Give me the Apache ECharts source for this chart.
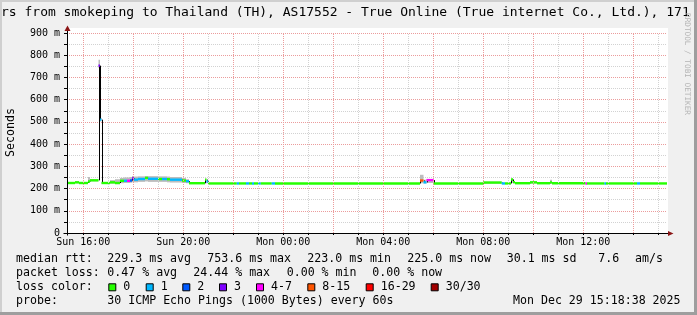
<!DOCTYPE html>
<html><head><meta charset="utf-8">
<script src="https://cdn.jsdelivr.net/npm/echarts@6/dist/echarts.min.js"></script>
<style>html,body{margin:0;padding:0;background:#f0f0f0}#c{width:697px;height:315px}</style>
</head><body><div id="c"></div>
<script>
// ---- axis extents / ticks (hours since Sun 00:00, values in ms) ----
const xMin = 15.35, xMax = 39.35;
const xTickHours = [16, 20, 24, 28, 32, 36];
const xTickLabels = ['Sun 16:00', 'Sun 20:00', 'Mon 00:00', 'Mon 04:00', 'Mon 08:00', 'Mon 12:00'];
const yMax = 900, yStep = 100;

// ---- median rtt segments (start hour, median ms, loss class, smoke range) ----
const segStart = [15.35,15.67,15.83,16.19,16.27,16.61,16.67,16.73,17.07,17.27,
  17.47,17.63,17.75,17.87,17.95,18.03,18.19,18.47,18.59,18.99,
  19.15,19.35,19.47,19.95,20.11,20.23,20.87,20.93,20.99,22.14,
  22.23,22.51,22.63,22.75,22.83,22.99,23.10,23.54,23.67,29.47,
  29.61,29.73,30.01,31.99,32.74,32.87,33.11,33.19,33.27,33.87,
  34.15,34.67,34.75,36.09,36.15,36.85,36.91,38.15,38.27];
const medianMs = [225,228,225,232,237,753,510,225,228,225,
  235,235,235,236,246,240,243,248,244,243,
  243,242,240,236,233,224,240,232,223,223,
  223,223,223,223,223,223,223,223,223,236,
  228,238,223,227,223,223,241,229,224,228,
  224,228,224,223,223,223,223,223,223];
const lossIdx = [0,0,0,0,0,3,1,0,0,0,
  0,1,4,2,3,1,1,0,1,0,
  1,0,1,0,1,0,0,1,0,1,
  0,1,0,1,0,1,0,1,0,5,
  1,4,0,0,1,0,0,0,0,0,
  0,0,0,4,0,1,0,1,0];
const smokeLow = [222,224,222,226,233,742,502,222,222,220,
  224,225,225,226,228,228,230,232,230,230,
  230,228,227,225,224,221,224,224,221,221,
  221,221,221,221,221,221,221,221,221,224,
  223,225,221,222,221,221,225,223,221,223,
  221,222,221,221,221,221,221,221,221];
const smokeHigh = [228,232,228,252,242,780,518,228,238,242,
  248,250,250,252,256,254,255,256,256,255,
  255,254,252,248,242,226,244,240,225,225,
  225,225,225,225,225,225,225,225,225,262,
  240,242,225,231,225,225,244,232,226,231,
  226,240,226,225,225,225,225,225,225];

// ---- loss colour legend ----
const lossLabels = ['0', '1', '2', '3', '4-7', '8-15', '16-29', '30/30'];
const lossColors = ['#26ff00', '#00b8ff', '#0059ff', '#7e00ff', '#ff00ff', '#ff5500', '#ff0000', '#a10000'];

// ---- texts ----
const titleText = 'rs from smokeping to Thailand (TH), AS17552 - True Online (True internet Co., Ltd.), 171';
const yTitle = 'Seconds';
const watermark = 'RRDTOOL / TOBI OETIKER';
const rttHead = 'median rtt:';
const rttStats = ['229.3 ms avg', '753.6 ms max', '223.0 ms min', '225.0 ms now', '30.1 ms sd', '7.6', 'am/s'];
const lossHead = 'packet loss:';
const lossStats = ['0.47 % avg', '24.44 % max', '0.00 % min', '0.00 % now'];
const colorHead = 'loss color:';
const probeHead = 'probe:';
const probeText = '30 ICMP Echo Pings (1000 Bytes) every 60s';
const stampText = 'Mon Dec 29 15:18:38 2025';

// ---- layout (positions only) ----
const MONO = '"DejaVu Sans Mono", monospace';
const LEG_FONT = '11.6px ' + MONO;
const lineY = [259.3, 273.3, 287.3, 301];
const rttX = [107.3, 207.3, 307.3, 407.3, 506.7, 598.3, 635];
const lossX = [107.3, 193.3, 286.7, 372.3];
const boxX = [108.3, 145.7, 182.3, 219, 256, 307.3, 365.7, 430.7];

const last = segStart.length - 1;
const segEnd = segStart.map((s, i) => i < last ? segStart[i + 1] : xMax);
const medianRows = segStart.map((s, i) => [s, segEnd[i], medianMs[i], lossIdx[i], i > 0 ? medianMs[i - 1] : medianMs[i]]);
const smokeRows = segStart.map((s, i) => [s, segEnd[i], smokeLow[i], smokeHigh[i]]);

const hourLines = [];
for (let h = Math.ceil(xMin); h <= xMax; h++) hourLines.push(h);
const MAJOR = '#eb9c9c', MINOR = '#d2d2d2';

const chart = echarts.init(document.getElementById('c'), null, { renderer: 'canvas' });
chart.setOption({
  animation: false,
  backgroundColor: '#f0f0f0',
  textStyle: { fontFamily: MONO },
  grid: { left: 67, top: 33, width: 600, height: 200, containLabel: false },
  xAxis: {
    type: 'value', min: xMin, max: xMax,
    axisLine: { show: false },
    splitLine: { show: false },
    axisTick: { show: true, customValues: hourLines, length: 2, lineStyle: { color: '#000' } },
    axisLabel: {
      customValues: xTickHours, margin: 4, color: '#000',
      fontFamily: MONO, fontSize: 10,
      formatter: v => xTickLabels[xTickHours.indexOf(Math.round(v))] || ''
    }
  },
  yAxis: {
    type: 'value', min: 0, max: yMax, interval: yStep,
    axisLine: { show: false },
    axisTick: { show: true, length: 3, lineStyle: { color: '#000' } },
    minorTick: { show: true, splitNumber: 2, length: 3, lineStyle: { color: '#000' } },
    splitLine: { show: true, lineStyle: { color: MAJOR, type: [1, 1], width: 1 } },
    minorSplitLine: { show: true, lineStyle: { color: MINOR, type: [1, 1], width: 1 } },
    axisLabel: {
      margin: 7, color: '#000', fontFamily: MONO, fontSize: 10,
      formatter: v => v === 0 ? '0' : v + ' m'
    }
  },
  series: [
    {
      type: 'line', data: [], z: 1, silent: true,
      markLine: {
        silent: true, symbol: ['none', 'none'], label: { show: false }, animation: false,
        lineStyle: { type: [1, 1], width: 1 },
        data: hourLines.map(h => ({ xAxis: h, lineStyle: { color: h % 2 === 0 ? MAJOR : MINOR, type: [1, 1], width: 1 } }))
      }
    },
    {
      type: 'custom', name: 'smoke', z: 2, clip: true, silent: true,
      data: smokeRows,
      renderItem: (params, api) => {
        const a = api.coord([api.value(0), api.value(3)]);
        const b = api.coord([api.value(1), api.value(2)]);
        return { type: 'rect', shape: { x: a[0], y: a[1], width: b[0] - a[0], height: b[1] - a[1] }, style: { fill: '#bdbdbd' } };
      }
    },
    {
      type: 'custom', name: 'median', z: 4, clip: true, silent: true,
      data: medianRows,
      renderItem: (params, api) => {
        const a = api.coord([api.value(0), api.value(2)]);
        const b = api.coord([api.value(1), api.value(2)]);
        const prev = api.coord([api.value(0), api.value(4)]);
        const vx = Math.round(a[0]) + 0.5;
        return {
          type: 'group',
          children: [
            { type: 'line', shape: { x1: vx, y1: prev[1], x2: vx, y2: a[1] }, style: { stroke: '#000', lineWidth: 1 } },
            { type: 'rect', shape: { x: a[0], y: a[1] - 1.2, width: b[0] - a[0], height: 2.4 }, style: { fill: lossColors[api.value(3)] } }
          ]
        };
      }
    }
  ]
});

const p0 = chart.convertToPixel({ gridIndex: 0 }, [xMin, 0]);
const p1 = chart.convertToPixel({ gridIndex: 0 }, [xMax, yMax]);
const AX = Math.round(p0[0]) + 0.5, AY = Math.round(p0[1]) + 0.5;
const RIGHT = p1[0], TOP = p1[1];
const W = 697, H = 315;
const ARROW = '#8a1414';

const txt = (text, x, y, font) => ({
  type: 'text', z: 60,
  style: { text, x, y, font: font || LEG_FONT, fill: '#000', textAlign: 'left', textVerticalAlign: 'middle' }
});

const els = [
  { type: 'rect', z: -10, shape: { x: p0[0], y: TOP - 5, width: RIGHT - p0[0] + 1, height: p0[1] - TOP + 5 }, style: { fill: '#ffffff' } },
  // frame
  { type: 'rect', z: 90, shape: { x: 0, y: 0, width: W, height: 2 }, style: { fill: '#cfcfcf' } },
  { type: 'rect', z: 90, shape: { x: 0, y: 0, width: 2, height: H }, style: { fill: '#cfcfcf' } },
  { type: 'rect', z: 91, shape: { x: W - 3, y: 0, width: 3, height: H }, style: { fill: '#9e9e9e' } },
  { type: 'rect', z: 91, shape: { x: 0, y: H - 3, width: W, height: 3 }, style: { fill: '#9e9e9e' } },
  // axes
  { type: 'line', z: 50, shape: { x1: AX, y1: AY + 2, x2: AX, y2: TOP - 2 }, style: { stroke: '#000', lineWidth: 1 } },
  { type: 'line', z: 50, shape: { x1: AX - 4, y1: AY, x2: RIGHT + 1, y2: AY }, style: { stroke: '#000', lineWidth: 1 } },
  { type: 'polygon', z: 51, shape: { points: [[AX - 3, TOP - 2], [AX, TOP - 7.5], [AX + 3, TOP - 2]] }, style: { fill: ARROW } },
  { type: 'polygon', z: 51, shape: { points: [[RIGHT + 1, AY - 2.6], [RIGHT + 6.5, AY], [RIGHT + 1, AY + 2.6]] }, style: { fill: ARROW } },
  // title
  txt(titleText, 1, 12.5, '13px ' + MONO),
  // y title
  { type: 'text', z: 60, x: 10.5, y: 132.5, rotation: Math.PI / 2,
    style: { text: yTitle, x: 0, y: 0, font: LEG_FONT, fill: '#000', textAlign: 'center', textVerticalAlign: 'middle' } },
  // watermark
  { type: 'text', z: 60, x: 686.5, y: 64, rotation: -Math.PI / 2,
    style: { text: watermark, x: 0, y: 0, font: '7.7px ' + MONO, fill: '#b4b4b4', textAlign: 'center', textVerticalAlign: 'middle' } },
  // legend rows
  txt(rttHead, 16, lineY[0]),
  txt(lossHead, 16, lineY[1]),
  txt(colorHead, 16, lineY[2]),
  txt(probeHead, 16, lineY[3]),
  txt(probeText, 107.3, lineY[3]),
  txt(stampText, 513, lineY[3])
];
rttStats.forEach((s, i) => els.push(txt(s, rttX[i], lineY[0])));
lossStats.forEach((s, i) => els.push(txt(s, lossX[i], lineY[1])));
lossLabels.forEach((s, i) => {
  els.push({ type: 'rect', z: 60, shape: { x: boxX[i] + 0.5, y: lineY[2] - 3.5, width: 7, height: 7 }, style: { fill: lossColors[i], stroke: '#000', lineWidth: 1 } });
  els.push(txt(s, boxX[i] + 15, lineY[2]));
});
chart.setOption({ graphic: { elements: els } });
</script>
</body></html>
